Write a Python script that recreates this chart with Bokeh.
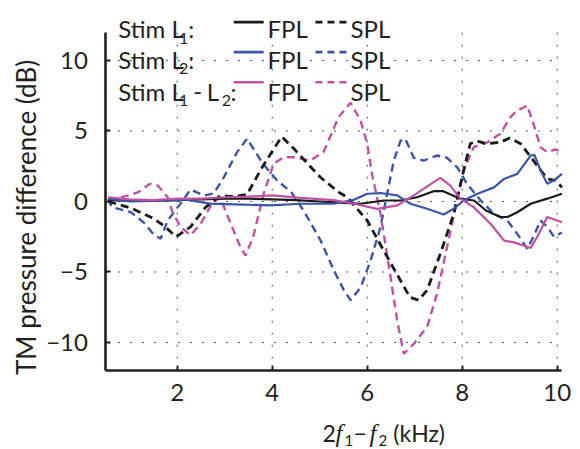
import math
from bokeh.plotting import figure
from bokeh.models import Label, FixedTicker, Range1d
from bokeh.embed import file_html
from bokeh.resources import INLINE

# ---------------- data ----------------
x_ticks = [2, 4, 6, 8, 10]
y_ticks = [-10, -5, 0, 5, 10]
y_tick_labels = {-10: "\u221210", -5: "\u22125", 0: "0", 5: "5", 10: "10"}
X_MIN, X_MAX = 0.5, 10.1      # plotted frequency span (kHz)
Y_MIN, Y_MAX = -12, 12        # plotted level span (dB)

# Stim L1 : FPL (solid black)
x_fpl_l1 = [0.55, 1.0, 1.5, 2.0, 2.5, 3.0, 3.5, 4.0, 4.5, 5.0, 5.5, 5.86, 6.35, 6.7,
            7.05, 7.4, 7.6, 7.96, 8.25, 8.5, 8.8, 8.95, 9.16, 9.44, 9.79, 10.1]
fpl_l1 = [0.1, 0.05, 0.05, 0.1, 0.15, 0.2, 0.2, 0.15, 0.1, 0.0, -0.1, -0.16, 0.07, 0.07,
          0.3, 0.73, 0.73, 0.2, 0.07, -0.64, -1.1, -1.1, -0.76, -0.16, 0.2, 0.55]

# Stim L1 : SPL (dashed black)
x_spl_l1 = [0.55, 1.05, 1.5, 1.71, 1.98, 2.28, 2.6, 2.9, 3.2, 3.47, 3.8, 4.2, 4.47, 4.74,
            5.02, 5.4, 5.58, 6.0, 6.35, 6.7, 6.9, 7.08, 7.26, 7.54, 7.82, 8.03, 8.17, 8.3,
            8.5, 8.8, 9.0, 9.23, 9.5, 9.79, 9.96, 10.1]
spl_l1 = [0.0, -0.5, -1.2, -1.7, -2.5, -1.8, -0.4, 0.4, 0.35, 0.5, 2.5, 4.6, 3.7, 2.7,
          1.7, 0.66, 0.3, -1.35, -3.5, -5.6, -6.8, -7.0, -6.3, -3.7, -0.9, 2.2, 4.1, 4.3,
          4.1, 4.2, 4.5, 4.1, 2.9, 1.6, 1.5, 1.0]

# Stim L2 : FPL (solid blue)
x_fpl_l2 = [0.55, 1.0, 1.5, 2.0, 2.2, 2.4, 2.7, 3.2, 3.96, 4.6, 5.3, 5.72, 6.0, 6.28,
            6.63, 6.91, 7.26, 7.61, 7.82, 8.03, 8.32, 8.67, 8.88, 9.16, 9.44, 9.52, 9.65,
            9.79, 9.93, 10.1]
fpl_l2 = [0.2, 0.0, 0.05, 0.1, 0.15, 0.0, -0.15, -0.2, -0.28, -0.16, -0.16, 0.12, 0.55, 0.6,
          0.43, -0.16, -0.52, -0.92, -0.52, 0.07, 0.55, 1.0, 1.6, 1.96, 3.26, 3.3, 2.2,
          1.25, 1.5, 1.96]

# Stim L2 : SPL (dashed blue)
x_spl_l2 = [0.55, 0.62, 1.02, 1.3, 1.47, 1.65, 1.8, 2.07, 2.28, 2.56, 2.77, 2.98, 3.26,
            3.47, 3.8, 4.1, 4.4, 4.66, 5.02, 5.3, 5.51, 5.65, 5.86, 6.07, 6.28, 6.42, 6.56,
            6.7, 6.8, 6.98, 7.19, 7.47, 7.68, 7.9, 8.1, 8.39, 8.67, 8.95, 9.16, 9.37, 9.5,
            9.65, 9.79, 9.93, 10.1]
spl_l2 = [0.2, -0.4, -0.75, -1.5, -2.2, -2.65, -1.35, -0.15, 0.85, 0.42, 0.57, 1.7, 3.5,
          4.45, 2.7, 1.5, 0.66, -0.64, -2.77, -4.9, -6.3, -7.0, -6.1, -4.2, -1.8, 0.55, 2.9,
          4.3, 4.45, 3.1, 2.9, 3.26, 3.1, 2.4, 1.25, 0.07, -0.87, -1.35, -2.3, -3.35, -2.5,
          -1.35, -1.8, -2.5, -2.2]

# Stim L1 - L2 : FPL (solid magenta)
x_fpl_l12 = [0.55, 1.0, 1.5, 2.0, 2.5, 3.0, 3.5, 4.0, 4.6, 5.3, 5.72, 6.21, 6.63, 6.98,
             7.4, 7.54, 7.75, 7.96, 8.24, 8.6, 8.88, 9.09, 9.44, 9.58, 9.79, 10.1]
fpl_l12 = [0.3, 0.15, 0.1, 0.2, 0.2, 0.3, 0.35, 0.43, 0.26, 0.1, -0.16, -0.52, -0.28, 0.43,
           1.37, 1.68, 1.13, 0.2, -0.4, -1.6, -2.77, -2.9, -3.3, -2.5, -1.1, -1.47]

# Stim L1 - L2 : SPL (dashed magenta)
x_spl_l12 = [0.55, 0.97, 1.18, 1.42, 1.59, 1.8, 1.9, 2.07, 2.28, 2.49, 2.73, 2.9, 3.1,
             3.33, 3.44, 3.6, 3.82, 4.03, 4.24, 4.45, 4.8, 5.08, 5.4, 5.65, 5.86, 6.0, 6.1,
             6.28, 6.46, 6.63, 6.77, 6.98, 7.26, 7.47, 7.68, 7.86, 8.03, 8.24, 8.53, 8.8,
             9.02, 9.16, 9.37, 9.5, 9.65, 9.79, 9.96, 10.1]
spl_l12 = [0.07, 0.43, 0.66, 1.25, 1.13, 0.3, -0.76, -1.8, -2.4, -1.6, -0.16, 0.3, -1.35,
           -3.24, -3.83, -2.5, 0.55, 2.67, 3.14, 3.14, 2.9, 3.5, 6.0, 7.0, 5.74, 4.1, 1.96,
           -0.87, -4.66, -8.44, -10.8, -10.1, -8.9, -6.55, -3.24, -0.4, 2.2, 3.85, 4.2, 4.8,
           6.0, 6.45, 6.8, 5.5, 3.85, 3.5, 3.7, 3.5]

# ---------------- style ----------------
FONT = "Lato"
SERIF = "Liberation Serif"
INK = "#231f20"
BLACK = "#1a1a1a"
BLUE = "#3a55a6"
MAGENTA = "#c052a4"
GRID = "#555555"
DASH = "8 5"

# The frame covers the whole canvas; the axes are pinned with fixed_location so
# that titles / legend can sit anywhere on the canvas without being clipped.
p = figure(width=580, height=449, output_backend="svg", toolbar_location=None,
           x_range=Range1d(-1.72, 10.49), y_range=Range1d(-17.59, 14.255),
           min_border=0)
p.outline_line_color = None
p.background_fill_color = "white"
p.border_fill_color = "white"

# grid (dotted, limited to the data box)
p.xgrid.visible = False
p.ygrid.visible = False
p.segment(x0=x_ticks, y0=[Y_MIN] * len(x_ticks), x1=x_ticks, y1=[Y_MAX] * len(x_ticks),
          line_color=GRID, line_dash="2 10", line_width=1)
p.segment(x0=[X_MIN] * len(y_ticks), y0=y_ticks, x1=[X_MAX] * len(y_ticks), y1=y_ticks,
          line_color=GRID, line_dash="2 10", line_width=1)

# axes
for ax in (p.xaxis[0], p.yaxis[0]):
    ax.axis_line_width = 2.6
    ax.axis_line_color = INK
    ax.major_tick_in = 5
    ax.major_tick_out = 0
    ax.major_tick_line_width = 2
    ax.major_tick_line_color = INK
    ax.minor_tick_line_color = None
    ax.major_label_text_font = FONT
    ax.major_label_text_font_size = "24px"
    ax.major_label_text_color = INK
p.xaxis.ticker = FixedTicker(ticks=x_ticks)
p.yaxis.ticker = FixedTicker(ticks=y_ticks)
p.xaxis.fixed_location = Y_MIN
p.yaxis.fixed_location = X_MIN
p.xaxis.bounds = (X_MIN, X_MAX)
p.yaxis.bounds = (Y_MIN, Y_MAX)
p.yaxis.major_label_overrides = y_tick_labels
p.xaxis.major_label_standoff = 13
p.yaxis.major_label_standoff = 18

# curves
p.line(x_spl_l2, spl_l2, line_color=BLUE, line_width=2.4, line_dash=DASH)
p.line(x_spl_l12, spl_l12, line_color=MAGENTA, line_width=2.4, line_dash=DASH)
p.line(x_spl_l1, spl_l1, line_color=BLACK, line_width=2.8, line_dash=DASH)
p.line(x_fpl_l1, fpl_l1, line_color=BLACK, line_width=2.2)
p.line(x_fpl_l2, fpl_l2, line_color=BLUE, line_width=2.2)
p.line(x_fpl_l12, fpl_l12, line_color=MAGENTA, line_width=2.2)

# ---------------- legend (manual, matching the reference layout) ----------------
row_base = [12.25, 10.05, 7.82]
row_sub = [11.54, 9.41, 7.16]
row_mid = [12.72, 10.59, 8.46]
row_colors = [BLACK, BLUE, MAGENTA]
LEG_FS = "24px"
KEY_FS = "24px"
SUB_FS = "16px"


def txt(x, y, t, size=LEG_FS, style="normal", align="left", baseline="alphabetic",
        angle=0.0, font=FONT):
    p.add_layout(Label(x=x, y=y, text=t, text_font=font, text_font_size=size,
                       text_font_style=style, text_color=INK, text_align=align,
                       text_baseline=baseline, angle=angle))


for i in range(3):
    txt(0.76, row_base[i], "Stim L")
    p.line([3.19, 3.82], [row_mid[i]] * 2, line_color=row_colors[i], line_width=2.6)
    p.line([4.91, 5.58], [row_mid[i]] * 2, line_color=row_colors[i], line_width=2.6,
           line_dash="7 5")
    txt(3.90, row_base[i], "FPL", KEY_FS)
    txt(5.65, row_base[i], "SPL", KEY_FS)

txt(2.04, row_sub[0], "1", SUB_FS)
txt(2.23, row_base[0], ":")
txt(2.04, row_sub[1], "2", SUB_FS)
txt(2.23, row_base[1], ":")
txt(2.04, row_sub[2], "1", SUB_FS)
txt(2.34, row_base[2], "-")
txt(2.62, row_base[2], "L")
txt(2.94, row_sub[2], "2", SUB_FS)
txt(3.12, row_base[2], ":")

# axis titles
txt(-1.19, -1.13, "TM pressure difference (dB)", "26px", align="center",
    baseline="middle", angle=math.pi / 2)
XL_BASE, XL_SUB = -16.45, -16.95
txt(5.06, XL_BASE, "2", "23px")
txt(5.33, XL_BASE, "f", "25px", style="italic", font=SERIF)
txt(5.52, XL_SUB, "1", "15px")
txt(5.71, XL_BASE, "\u2212", "23px")
txt(6.05, XL_BASE, "f", "25px", style="italic", font=SERIF)
txt(6.24, XL_SUB, "2", "15px")
txt(6.55, XL_BASE, "(kHz)", "23px")

open("out.html", "w").write(file_html(p, INLINE))
